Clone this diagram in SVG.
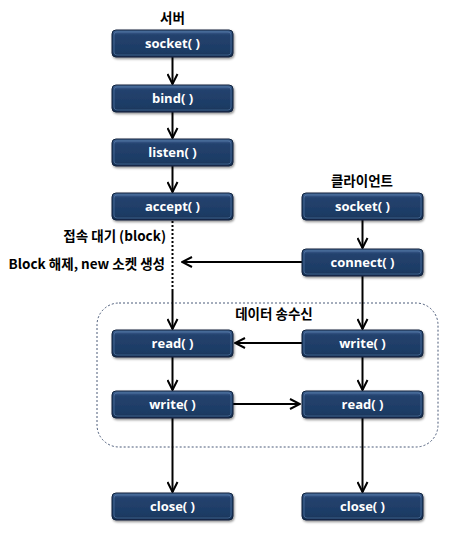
<svg xmlns="http://www.w3.org/2000/svg" width="468" height="539" viewBox="0 0 468 539">
<defs>
<linearGradient id="g" x1="0" y1="0" x2="0" y2="1">
<stop offset="0" stop-color="#4a6d9c"/>
<stop offset="0.18" stop-color="#23426e"/>
<stop offset="0.82" stop-color="#1d3b64"/>
<stop offset="1" stop-color="#142c4d"/>
</linearGradient>
<marker id="a" viewBox="0 0 12 12" refX="11" refY="6" markerWidth="12" markerHeight="12" markerUnits="userSpaceOnUse" orient="auto">
<path d="M1,1 L11,6 L1,11" fill="none" stroke="#000" stroke-width="2"/>
</marker>
<filter id="s" x="-10%" y="-20%" width="120%" height="150%">
<feDropShadow dx="1" dy="1.5" stdDeviation="1" flood-color="#000" flood-opacity="0.45"/>
</filter>
</defs>
<style>
.box{fill:url(#g);stroke:#10223c;stroke-width:1;filter:url(#s)}
.bev{fill:none;stroke:#5c7fae;stroke-width:1;opacity:0.6}
.t{font-family:"Open Sans","Noto Sans CJK KR",sans-serif;font-weight:bold;font-size:13px;fill:#fff;text-anchor:middle}
.lbl{font-family:"Noto Sans CJK KR","Noto Sans",sans-serif;font-weight:bold;font-size:13.5px;fill:#000}
.c{stroke:#000;stroke-width:2;fill:none}
</style>
<rect x="97" y="303" width="341" height="144" rx="22" fill="none" stroke="#4a5a78" stroke-width="1" stroke-dasharray="2,2"/>
<text class="lbl" x="274" y="319" text-anchor="middle">데이터 송수신</text>
<text class="lbl" x="172.5" y="23" text-anchor="middle">서버</text>
<text class="lbl" x="362" y="186" text-anchor="middle">클라이언트</text>
<text class="lbl" x="166" y="241" text-anchor="end">접속 대기 (block)</text>
<text class="lbl" x="165" y="269" text-anchor="end">Block 해제, new 소켓 생성</text>
<g id="connectors">
<line class="c" x1="172.5" y1="56" x2="172.5" y2="84" marker-end="url(#a)"/>
<line class="c" x1="172.5" y1="111" x2="172.5" y2="138" marker-end="url(#a)"/>
<line class="c" x1="172.5" y1="166" x2="172.5" y2="192" marker-end="url(#a)"/>
<line x1="172.5" y1="221" x2="172.5" y2="290" stroke="#000" stroke-width="2" stroke-dasharray="2,2"/>
<line class="c" x1="172.5" y1="290" x2="172.5" y2="329" marker-end="url(#a)"/>
<line class="c" x1="172.5" y1="357" x2="172.5" y2="390" marker-end="url(#a)"/>
<line class="c" x1="172.5" y1="418" x2="172.5" y2="492" marker-end="url(#a)"/>
<line class="c" x1="362.5" y1="220" x2="362.5" y2="248" marker-end="url(#a)"/>
<line class="c" x1="362.5" y1="276" x2="362.5" y2="329" marker-end="url(#a)"/>
<line class="c" x1="362.5" y1="357" x2="362.5" y2="390" marker-end="url(#a)"/>
<line class="c" x1="362.5" y1="418" x2="362.5" y2="492" marker-end="url(#a)"/>
<line class="c" x1="302" y1="262" x2="182" y2="262" marker-end="url(#a)"/>
<line class="c" x1="302" y1="343" x2="235" y2="343" marker-end="url(#a)"/>
<line class="c" x1="233" y1="404" x2="300" y2="404" marker-end="url(#a)"/>
</g>
<g id="s-socket"><rect class="box" x="112" y="30" width="121" height="27" rx="4"/><rect class="bev" x="114" y="32" width="117" height="23" rx="3"/><text class="t" x="172.5" y="48">socket( )</text></g>
<g id="s-bind"><rect class="box" x="112" y="85" width="121" height="27" rx="4"/><rect class="bev" x="114" y="87" width="117" height="23" rx="3"/><text class="t" x="172.5" y="103">bind( )</text></g>
<g id="s-listen"><rect class="box" x="112" y="139" width="121" height="27" rx="4"/><rect class="bev" x="114" y="141" width="117" height="23" rx="3"/><text class="t" x="172.5" y="157">listen( )</text></g>
<g id="s-accept"><rect class="box" x="112" y="193" width="121" height="27" rx="4"/><rect class="bev" x="114" y="195" width="117" height="23" rx="3"/><text class="t" x="172.5" y="211">accept( )</text></g>
<g id="s-read"><rect class="box" x="112" y="330" width="121" height="27" rx="4"/><rect class="bev" x="114" y="332" width="117" height="23" rx="3"/><text class="t" x="172.5" y="348">read( )</text></g>
<g id="s-write"><rect class="box" x="112" y="391" width="121" height="27" rx="4"/><rect class="bev" x="114" y="393" width="117" height="23" rx="3"/><text class="t" x="172.5" y="409">write( )</text></g>
<g id="s-close"><rect class="box" x="112" y="493" width="121" height="27" rx="4"/><rect class="bev" x="114" y="495" width="117" height="23" rx="3"/><text class="t" x="172.5" y="511">close( )</text></g>
<g id="c-socket"><rect class="box" x="302" y="193" width="121" height="27" rx="4"/><rect class="bev" x="304" y="195" width="117" height="23" rx="3"/><text class="t" x="362.5" y="211">socket( )</text></g>
<g id="c-connect"><rect class="box" x="302" y="249" width="121" height="27" rx="4"/><rect class="bev" x="304" y="251" width="117" height="23" rx="3"/><text class="t" x="362.5" y="267">connect( )</text></g>
<g id="c-write"><rect class="box" x="302" y="330" width="121" height="27" rx="4"/><rect class="bev" x="304" y="332" width="117" height="23" rx="3"/><text class="t" x="362.5" y="348">write( )</text></g>
<g id="c-read"><rect class="box" x="302" y="391" width="121" height="27" rx="4"/><rect class="bev" x="304" y="393" width="117" height="23" rx="3"/><text class="t" x="362.5" y="409">read( )</text></g>
<g id="c-close"><rect class="box" x="302" y="493" width="121" height="27" rx="4"/><rect class="bev" x="304" y="495" width="117" height="23" rx="3"/><text class="t" x="362.5" y="511">close( )</text></g>
</svg>
